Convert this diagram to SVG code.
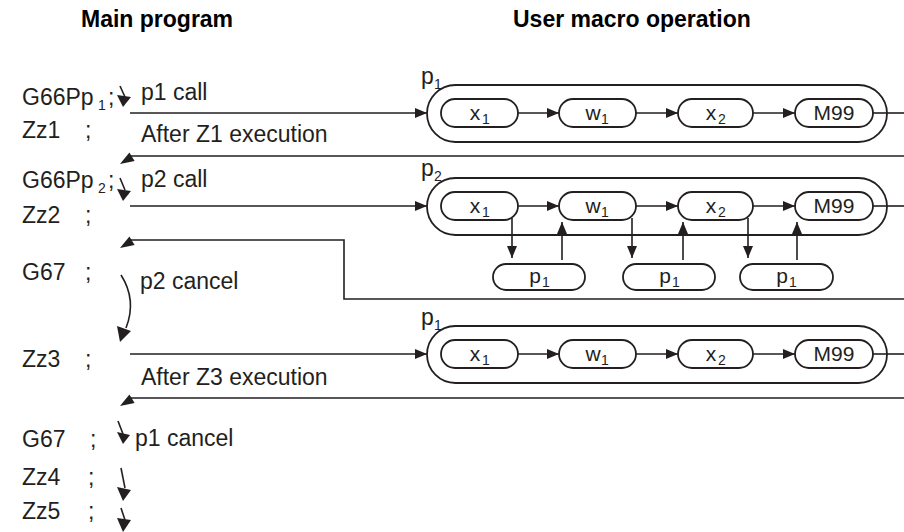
<svg xmlns="http://www.w3.org/2000/svg" width="904" height="532" viewBox="0 0 904 532">
<style>
.t{font-family:"Liberation Sans",Arial,sans-serif;font-size:23px;fill:#231f20}
.h{font-family:"Liberation Sans",Arial,sans-serif;font-size:23px;font-weight:bold;fill:#000}
.n{font-family:"Liberation Sans",Arial,sans-serif;font-size:21px;fill:#231f20;text-anchor:middle}
.s{font-size:14px}
.ln{stroke:#231f20;stroke-width:1.6;fill:none}
.op{fill:#fff;stroke:#231f20;stroke-width:1.8}
.ip{fill:#fff;stroke:#231f20;stroke-width:1.8}
.hd{fill:#231f20;stroke:none}
</style>
<defs>
<marker id="ah" viewBox="0 0 12 10" refX="12" refY="5" markerWidth="12" markerHeight="10" markerUnits="userSpaceOnUse" orient="auto"><path d="M0,0 L12,5 L0,10 Z" fill="#231f20"/></marker>
</defs>
<rect width="904" height="532" fill="#fff"/>

<g id="headers">
<text class="h" x="81" y="27">Main program</text>
<text class="h" x="513" y="27">User macro operation</text>
</g>

<g id="main-program">
<text class="t" x="22" y="105">G66Pp</text><text class="t s" x="98" y="110">1</text><text class="t" x="108" y="105">;</text>
<text class="t" x="22" y="138">Zz1</text><text class="t" x="85" y="138">;</text>
<text class="t" x="22" y="188">G66Pp</text><text class="t s" x="98" y="193">2</text><text class="t" x="108" y="188">;</text>
<text class="t" x="22" y="223">Zz2</text><text class="t" x="85" y="223">;</text>
<text class="t" x="22" y="280">G67</text><text class="t" x="85" y="280">;</text>
<text class="t" x="22" y="367">Zz3</text><text class="t" x="85" y="367">;</text>
<text class="t" x="22" y="447">G67</text><text class="t" x="90" y="447">;</text>
<text class="t" x="22" y="485">Zz4</text><text class="t" x="88" y="485">;</text>
<text class="t" x="22" y="519">Zz5</text><text class="t" x="88" y="519">;</text>
</g>

<g id="labels">
<text class="t" x="141" y="100">p1 call</text>
<text class="t" x="141" y="142">After Z1 execution</text>
<text class="t" x="141" y="187">p2 call</text>
<text class="t" x="140" y="289">p2 cancel</text>
<text class="t" x="141" y="385">After Z3 execution</text>
<text class="t" x="135" y="446">p1 cancel</text>
</g>

<g id="block-p1-first">
<text class="t" x="421" y="84">p</text><text class="t s" x="434" y="89">1</text>
<rect class="op" x="427" y="85" width="460" height="57" rx="28.5"/>
<rect class="ip" x="441" y="99" width="77" height="28" rx="14"/>
<text class="n" x="475" y="120">x</text><text class="t s" x="482" y="124">1</text>
<rect class="ip" x="559" y="99" width="77" height="28" rx="14"/>
<text class="n" x="593" y="120">w</text><text class="t s" x="601" y="124">1</text>
<rect class="ip" x="678" y="99" width="75" height="28" rx="14"/>
<text class="n" x="711" y="120">x</text><text class="t s" x="718" y="124">2</text>
<rect class="ip" x="795" y="99" width="78" height="28" rx="14"/>
<text class="n" x="834" y="120">M99</text>
</g>

<g id="block-p2">
<text class="t" x="421" y="176">p</text><text class="t s" x="434" y="181">2</text>
<rect class="op" x="427" y="178" width="460" height="57" rx="28.5"/>
<rect class="ip" x="441" y="192" width="77" height="28" rx="14"/>
<text class="n" x="475" y="213">x</text><text class="t s" x="482" y="217">1</text>
<rect class="ip" x="559" y="192" width="77" height="28" rx="14"/>
<text class="n" x="593" y="213">w</text><text class="t s" x="601" y="217">1</text>
<rect class="ip" x="678" y="192" width="75" height="28" rx="14"/>
<text class="n" x="711" y="213">x</text><text class="t s" x="718" y="217">2</text>
<rect class="ip" x="795" y="192" width="78" height="28" rx="14"/>
<text class="n" x="834" y="213">M99</text>
</g>

<g id="sub-p1-a">
<rect class="ip" x="493" y="264" width="92" height="26" rx="13"/>
<text class="n" x="535" y="283">p</text><text class="t s" x="542" y="287">1</text>
</g>
<g id="sub-p1-b">
<rect class="ip" x="623" y="264" width="92" height="26" rx="13"/>
<text class="n" x="665" y="283">p</text><text class="t s" x="672" y="287">1</text>
</g>
<g id="sub-p1-c">
<rect class="ip" x="740" y="264" width="93" height="26" rx="13"/>
<text class="n" x="782" y="283">p</text><text class="t s" x="789" y="287">1</text>
</g>

<g id="block-p1-second">
<text class="t" x="421" y="325">p</text><text class="t s" x="434" y="330">1</text>
<rect class="op" x="427" y="326" width="460" height="57" rx="28.5"/>
<rect class="ip" x="441" y="340" width="77" height="28" rx="14"/>
<text class="n" x="475" y="361">x</text><text class="t s" x="482" y="365">1</text>
<rect class="ip" x="559" y="340" width="77" height="28" rx="14"/>
<text class="n" x="593" y="361">w</text><text class="t s" x="601" y="365">1</text>
<rect class="ip" x="678" y="340" width="75" height="28" rx="14"/>
<text class="n" x="711" y="361">x</text><text class="t s" x="718" y="365">2</text>
<rect class="ip" x="795" y="340" width="78" height="28" rx="14"/>
<text class="n" x="834" y="361">M99</text>
</g>

<g id="connectors">
<!-- block 1 -->
<line class="ln" x1="130" y1="113" x2="427" y2="113" marker-end="url(#ah)"/>
<line class="ln" x1="518" y1="113" x2="559" y2="113" marker-end="url(#ah)"/>
<line class="ln" x1="636" y1="113" x2="678" y2="113" marker-end="url(#ah)"/>
<line class="ln" x1="753" y1="113" x2="795" y2="113" marker-end="url(#ah)"/>
<line class="ln" x1="873" y1="113" x2="904" y2="113"/>
<line class="ln" x1="904" y1="156" x2="130" y2="156"/>
<polygon class="hd" points="120,164 129.4,152.5 134.6,161.1"/>
<!-- block 2 -->
<line class="ln" x1="130" y1="206" x2="427" y2="206" marker-end="url(#ah)"/>
<line class="ln" x1="518" y1="206" x2="559" y2="206" marker-end="url(#ah)"/>
<line class="ln" x1="636" y1="206" x2="678" y2="206" marker-end="url(#ah)"/>
<line class="ln" x1="753" y1="206" x2="795" y2="206" marker-end="url(#ah)"/>
<line class="ln" x1="873" y1="206" x2="904" y2="206"/>
<line class="ln" x1="512" y1="218" x2="512" y2="258" marker-end="url(#ah)"/>
<line class="ln" x1="562" y1="260" x2="562" y2="222" marker-end="url(#ah)"/>
<line class="ln" x1="632" y1="218" x2="632" y2="258" marker-end="url(#ah)"/>
<line class="ln" x1="683" y1="260" x2="683" y2="222" marker-end="url(#ah)"/>
<line class="ln" x1="748" y1="218" x2="748" y2="258" marker-end="url(#ah)"/>
<line class="ln" x1="797" y1="260" x2="797" y2="222" marker-end="url(#ah)"/>
<polyline class="ln" points="904,299 344,299 344,240 130,240"/>
<polygon class="hd" points="120,248 129.4,236.5 134.6,245.1"/>
<!-- block 3 -->
<line class="ln" x1="130" y1="354" x2="427" y2="354" marker-end="url(#ah)"/>
<line class="ln" x1="518" y1="354" x2="559" y2="354" marker-end="url(#ah)"/>
<line class="ln" x1="636" y1="354" x2="678" y2="354" marker-end="url(#ah)"/>
<line class="ln" x1="753" y1="354" x2="795" y2="354" marker-end="url(#ah)"/>
<line class="ln" x1="873" y1="354" x2="904" y2="354"/>
<line class="ln" x1="904" y1="398" x2="130" y2="398"/>
<polygon class="hd" points="120,406 129.4,394.5 134.6,403.1"/>
<!-- small flow arrows -->
<line class="ln" x1="120" y1="86" x2="125" y2="97"/>
<polygon class="hd" points="117,95 131,97 123,107"/>
<line class="ln" x1="120" y1="178" x2="125" y2="190"/>
<polygon class="hd" points="117,189 131,191 123,201"/>
<path class="ln" d="M121,275 Q137,300 126,328"/>
<polygon class="hd" points="117,326 131,331 120,342"/>
<line class="ln" x1="118" y1="421" x2="123" y2="434"/>
<polygon class="hd" points="117,432 130,435 123,444"/>
<line class="ln" x1="121" y1="468" x2="125" y2="488"/>
<polygon class="hd" points="117,487 131,490 123,501"/>
<line class="ln" x1="121" y1="508" x2="125" y2="520"/>
<polygon class="hd" points="117,518 131,520 123,532"/>
</g>
</svg>
